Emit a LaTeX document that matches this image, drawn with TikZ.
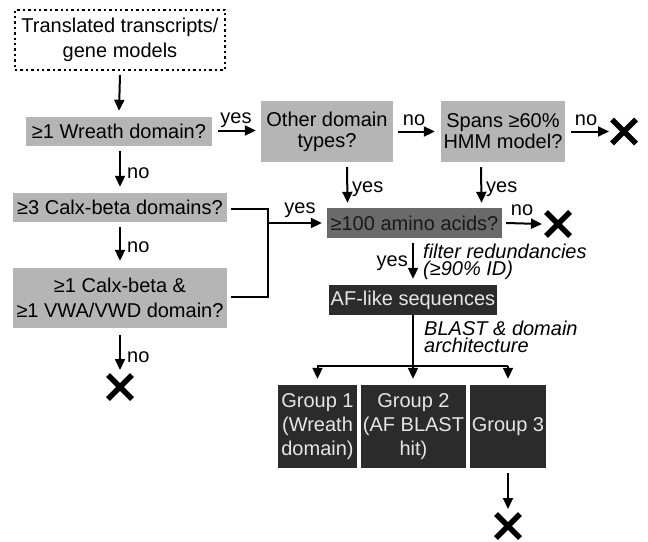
\documentclass[tikz,border=0pt]{standalone}
\usepackage{fontspec}
\setmainfont{Liberation Sans}
\usetikzlibrary{arrows.meta,calc}
\definecolor{lgray}{HTML}{B5B5B5}
\definecolor{mgray}{HTML}{6A6A6A}
\definecolor{dgray}{HTML}{2B2B2B}
\definecolor{wtext}{HTML}{E6E6E6}
\begin{document}
\begin{tikzpicture}[x=1pt,y=-1pt,
  font=\fontsize{20}{24}\selectfont,
  box/.style={inner sep=0pt, align=center, text=black, anchor=center},
  lbox/.style={box, fill=lgray},
  mbox/.style={box, fill=mgray, text=black!90},
  dbox/.style={box, fill=dgray, text=wtext},
  dotbox/.style={box, draw=black, line width=2.4pt, dash pattern=on 2.4pt off 3pt},
  arr/.style={line width=2pt, -{Triangle[length=11pt,width=10pt]}},
  ln/.style={line width=2pt},
  lab/.style={inner sep=0pt, anchor=base},
  ital/.style={inner sep=0pt, anchor=base west, align=left, font=\fontsize{20}{16.5}\selectfont\itshape},
  cross/.style={line width=5.5pt}]
\useasboundingbox (0,0) rectangle (648,541);

% boxes
\node[dotbox, minimum width=210, minimum height=60, font=\fontsize{20}{25}\selectfont] (src) at (120,40) {Translated transcripts/\\gene models};
\node[lbox, minimum width=186, minimum height=29] (wreath) at (119,131.5) {≥1 Wreath domain?};
\node[lbox, minimum width=132, minimum height=61, font=\fontsize{20}{21}\selectfont] (other) at (327,131.5) {Other domain\\types?};
\node[lbox, minimum width=124, minimum height=61, font=\fontsize{20}{21}\selectfont] (spans) at (503,131.5) {Spans ≥60\%\\HMM model?};
\node[lbox, minimum width=214, minimum height=29] (calx) at (120,207.5) {≥3 Calx-beta domains?};
\node[lbox, minimum width=214, minimum height=60, font=\fontsize{20}{25}\selectfont] (vwa) at (120,298) {≥1 Calx-beta \&\\≥1 VWA/VWD domain?};
\node[mbox, minimum width=175, minimum height=30] (amino) at (414.5,223) {≥100 amino acids?};
\node[dbox, minimum width=168, minimum height=30] (af) at (413,300) {AF-like sequences};
\node[dbox, minimum width=79, minimum height=83] (g1) at (317.5,426.5) {Group 1\\(Wreath\\domain)};
\node[dbox, minimum width=105, minimum height=83] (g2) at (413.5,426.5) {Group 2\\(AF BLAST\\hit)};
\node[dbox, minimum width=76, minimum height=83] (g3) at (508,426.5) {Group 3};

% crosses
\coordinate (x1) at (624,131.5);
\coordinate (x2) at (558,224);
\coordinate (x3) at (120,387);
\coordinate (x4) at (508,526);
\foreach \c in {x1,x2,x3,x4}{
  \draw[cross] ($(\c)+(-12,-12)$) -- ($(\c)+(12,12)$);
  \draw[cross] ($(\c)+(-12,12)$) -- ($(\c)+(12,-12)$);
}

% main flow
\draw[arr] ($(src.south)+(0,4)$) -- ($(wreath.north)+(0,-6)$);
\draw[arr] ($(wreath.east)+(6,-1)$) -- ($(other.west)+(-5,-1)$);
\node[lab] at (236,123) {yes};
\draw[arr] ($(other.east)+(5,0)$) -- ($(spans.west)+(-6,0)$);
\node[lab] at (414,125) {no};
\draw[arr] ($(spans.east)+(6,0)$) -- ($(x1)+(-15,0)$);
\node[lab] at (586,125) {no};

\draw[arr] ($(other.south)+(20,5)$) -- ($(amino.north)+(-67,-5)$);
\node[lab, anchor=base west] at (352,192) {yes};
\draw[arr] ($(spans.south)+(-22,5)$) -- ($(amino.north)+(67,-5)$);
\node[lab, anchor=base west] at (486,192) {yes};

\draw[arr] ($(amino.east)+(4,0)$) -- ($(x2)+(-16,0)$);
\node[lab] at (522,215) {no};

% left column
\draw[arr] ($(wreath.south)+(1,5)$) -- ($(calx.north)+(0,-6)$);
\node[lab, anchor=base west] at (127,178) {no};
\draw[arr] ($(calx.south)+(0,5)$) -- ($(vwa.north)+(0,-7)$);
\node[lab, anchor=base west] at (127,252) {no};
\draw[arr] ($(vwa.south)+(0,7)$) -- ($(x3)+(0,-17)$);
\node[lab, anchor=base west] at (127,362) {no};

% bracket into amino
\coordinate (bj) at (268,223);
\draw[ln] ($(calx.east)+(4,1.5)$) -| (268,297) -- ($(vwa.east)+(4,-1)$);
\draw[arr] (bj) -- ($(amino.west)+(-5,0)$);
\node[lab] at (300,213) {yes};

% amino -> AF
\draw[arr] ($(amino.south)+(-1.5,5)$) -- ($(af.north)+(0,-6)$);
\node[lab, anchor=base east] at (408,266) {yes};
\node[ital] at (423,275) {filter redundancies\\(≥90\% ID)};

% AF -> groups
\coordinate (split) at (413,366);
\draw[ln] (af.south) -- (split);
\draw[ln] (317,366) -- (508,366);
\draw[arr] (317.5,366) -- ($(g1.north)+(0,-6)$);
\draw[arr] (split) -- ($(g2.north)+(-0.5,-6)$);
\draw[arr] (508,366) -- ($(g3.north)+(0,-6)$);
\node[ital] at (424,352) {BLAST \& domain\\architecture};

% group 3 -> cross
\draw[arr] ($(g3.south)+(0,5)$) -- ($(x4)+(0,-17)$);
\end{tikzpicture}
\end{document}
